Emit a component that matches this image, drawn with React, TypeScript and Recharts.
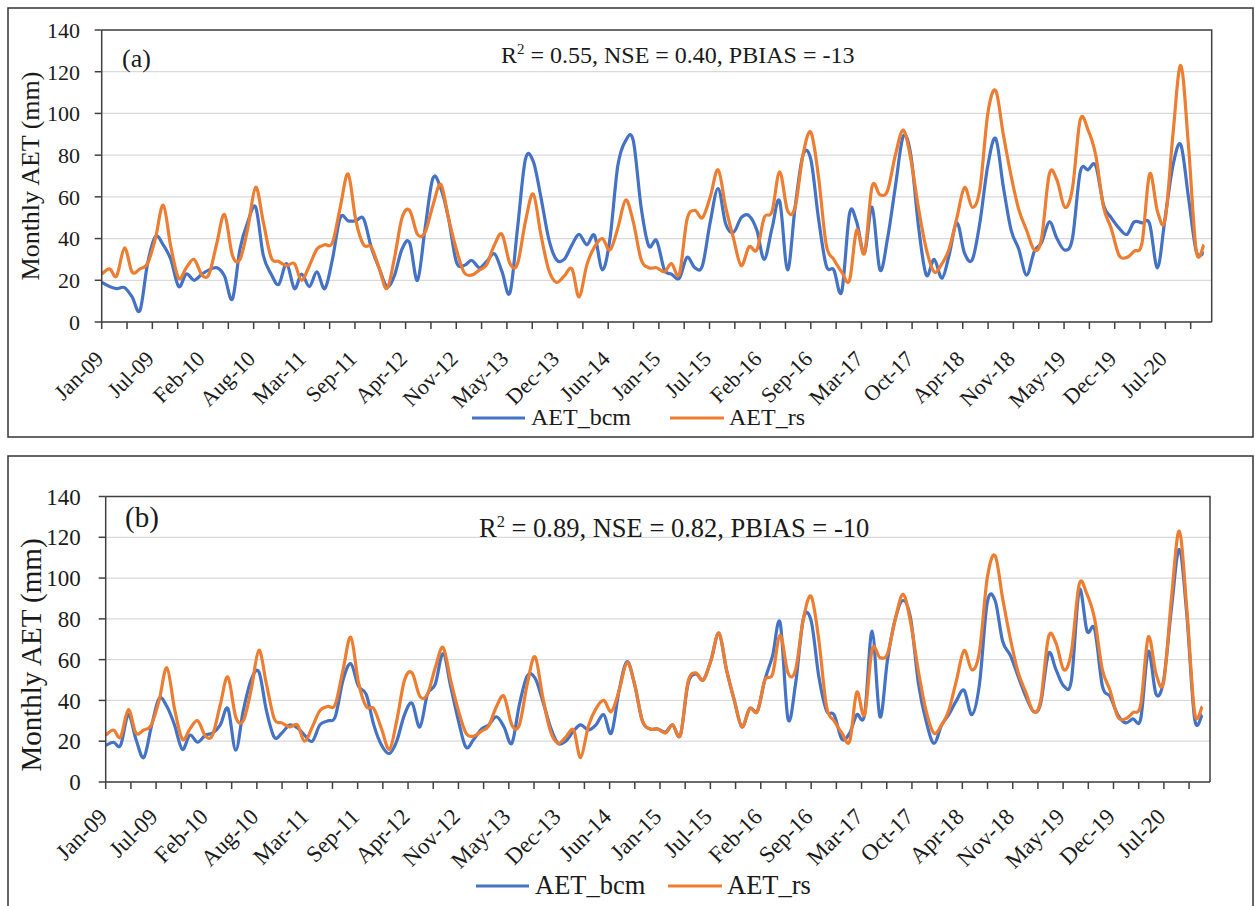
import React from "react"
import { CartesianGrid, Line, LineChart, XAxis, YAxis } from "recharts"

// monthly series, Jan-2009 .. Dec-2020 (144 months)
const START_YEAR = 2009
const N_MONTHS = 144

const TICK_LABELS = [
  "Jan-09", "Jul-09", "Feb-10", "Aug-10", "Mar-11", "Sep-11", "Apr-12", "Nov-12",
  "May-13", "Dec-13", "Jun-14", "Jan-15", "Jul-15", "Feb-16", "Sep-16", "Mar-17",
  "Oct-17", "Apr-18", "Nov-18", "May-19", "Dec-19", "Jul-20",
]

// Excel date axis: a tick every 100 days, a label every second tick
const TICK_DAYS = Array.from({ length: 44 }, (_, i) => i * 100)
const Y_TICKS = [0, 20, 40, 60, 80, 100, 120, 140]

// remote-sensing AET (same in both panels)
const AET_RS = [
  23, 25.5, 22, 35.5, 24, 25.5, 28, 40, 56, 36,
  21, 26, 30, 22.5, 23, 38, 51.5, 32, 30, 45,
  64.6, 48, 31, 29, 27, 28, 20, 27, 35, 37,
  38, 55, 71, 49, 37, 36, 26, 16, 30, 50,
  53.5, 42, 43, 56, 66, 50, 35, 24, 22.5, 25,
  27.5, 37, 42, 28, 28, 48, 61.4, 42, 25, 19,
  22, 25.5, 12, 27.5, 36, 40, 34.5, 45, 58.5, 48,
  30, 26, 26, 24, 28, 23, 49, 53.5, 50, 60,
  73, 55, 40, 27, 36, 34.6, 50, 53, 72, 53.5,
  55, 80, 91, 70, 37, 30, 24, 20, 44, 33,
  65, 61, 63, 80, 92, 78, 54, 35, 24, 28,
  35, 50, 64.5, 55, 64, 100, 111, 90, 70, 54,
  44, 34.5, 40, 71, 68, 55, 64, 97, 92, 80,
  55, 45, 32, 31, 34, 38, 71, 53, 49, 90,
  123, 85, 34, 37,
]

// panel (a): BCM before calibration
const AET_BCM_A = [
  19, 17, 16, 16.5, 12, 5.5, 28, 41, 37, 30,
  17, 23, 20, 23, 25, 26, 22, 11, 35, 48,
  55, 32, 23, 18, 28, 16, 23, 17, 24, 16,
  30, 50, 48.5, 48.5, 49.5, 36, 26, 17, 22, 35,
  38, 20, 45, 69, 64, 50, 29, 27, 29.5, 26,
  29, 32.7, 24, 14, 45, 78, 77, 60, 40, 30,
  30, 37, 42, 37, 41.5, 25, 40, 75, 87, 87,
  55, 36.5, 39, 25, 23, 21, 31, 26, 27, 48,
  64, 47, 43, 50, 51, 44, 30, 45, 58, 25,
  55, 80, 78, 50, 27, 25, 14.5, 52, 48, 33,
  55, 25, 40, 65, 89, 80, 45, 22.5, 30, 21,
  32, 47.5, 33, 30, 48, 75, 88, 65, 44, 35,
  22.5, 34, 38, 48, 40, 34.5, 40, 72, 73, 75,
  56, 50, 45, 42, 48, 47.5, 47, 26, 50, 75,
  85, 60, 34, 33,
]

// panel (b): BCM after calibration
const AET_BCM_B = [
  18, 19.5, 18, 33, 21, 12, 27, 41, 37, 28,
  16, 23, 19.5, 23, 24, 28, 36, 15.6, 35, 50,
  54, 35, 22, 24, 28, 26.5, 23, 20, 28, 30,
  32, 50, 58, 47, 43, 28, 18, 14, 20, 33,
  38.6, 27, 43, 48, 63, 47, 30, 17, 21, 26,
  28, 32, 27, 19, 38, 52, 51, 40, 27, 19,
  20, 25, 28, 25.5, 28, 33, 24, 45, 59, 48,
  30, 26, 26, 24.5, 28, 23, 48, 53, 50, 60,
  73, 55, 40, 27, 36, 35, 50, 62, 78, 31,
  48, 80, 79, 52, 35, 33, 21, 24, 33, 33,
  74, 32, 60, 80, 89, 80, 48, 30, 19, 28,
  33, 40, 45, 33, 48, 88, 89, 69, 62, 52,
  42, 34.5, 38.6, 63, 55, 47, 50, 94, 74, 75,
  47, 42, 33, 29, 31, 31, 64, 43, 50, 85,
  114, 82, 31, 33,
]

const BLUE = "#4472C4"
const ORANGE = "#ED7D31"
const AXIS = "#404040"
const TEXT = "#1a1a1a"
const FONT = "'Liberation Serif', 'Times New Roman', serif"

const DAY_MS = 86400000
const t0 = Date.UTC(START_YEAR, 0, 1)
const monthDays = Array.from({ length: N_MONTHS }, (_, i) =>
  Math.round((Date.UTC(START_YEAR, i, 1) - t0) / DAY_MS))
const X_MAX = Math.round((Date.UTC(START_YEAR + 12, 0, 1) - t0) / DAY_MS)

// Excel-like smoothed line (cardinal spline, tension 0)
const excelSmooth = (context: any) => {
  let pts: number[][] = []
  return {
    areaStart() {},
    areaEnd() {},
    lineStart() {
      pts = []
    },
    point(x: number, y: number) {
      pts.push([+x, +y])
    },
    lineEnd() {
      const n = pts.length
      if (!n) return
      context.moveTo(pts[0][0], pts[0][1])
      for (let i = 0; i < n - 1; i++) {
        const p0 = pts[i - 1] || pts[i]
        const p1 = pts[i]
        const p2 = pts[i + 1]
        const p3 = pts[i + 2] || p2
        context.bezierCurveTo(
          p1[0] + (p2[0] - p0[0]) / 6,
          p1[1] + (p2[1] - p0[1]) / 6,
          p2[0] - (p3[0] - p1[0]) / 6,
          p2[1] - (p3[1] - p1[1]) / 6,
          p2[0],
          p2[1],
        )
      }
    },
  }
}

type PanelProps = {
  top: number
  height: number
  plotLeft: number
  plotRight: number
  plotTop: number
  plotBottom: number
  tickFont: number
  tickGap: number
  labelDrop: number
  bcm: number[]
}

function Panel({ top, height, plotLeft, plotRight, plotTop, plotBottom, tickFont, tickGap, labelDrop, bcm }: PanelProps) {
  const data = monthDays.map((day, i) => ({ day, bcm: bcm[i], rs: AET_RS[i] }))

  const XTick = (props: any) => {
    const { x, y, payload } = props
    const v = payload.value
    if (v % 200 !== 0) return <g />
    const ax = x + 3
    const ay = y + tickFont * 1.05 + labelDrop
    return (
      <text
        x={ax}
        y={ay}
        textAnchor="end"
        transform={`rotate(-45 ${ax} ${ay})`}
        fontSize={tickFont}
        fontFamily={FONT}
        fill={TEXT}
      >
        {TICK_LABELS[v / 200]}
      </text>
    )
  }

  return (
    <div style={{ position: "absolute", left: 0, top }}>
      <LineChart
        width={1255}
        height={height}
        data={data}
        margin={{ top: plotTop - top, right: 1255 - plotRight, left: 0, bottom: 0 }}
      >
        <CartesianGrid vertical={false} stroke="#d9d9d9" strokeWidth={1.2} />
        <XAxis
          type="number"
          dataKey="day"
          domain={[0, X_MAX]}
          ticks={TICK_DAYS}
          interval={0}
          allowDataOverflow
          height={top + height - plotBottom}
          tickSize={7}
          tickLine={{ stroke: AXIS, strokeWidth: 1.5 }}
          axisLine={{ stroke: AXIS, strokeWidth: 1.5 }}
          tick={XTick}
        />
        <YAxis
          type="number"
          domain={[0, 140]}
          ticks={Y_TICKS}
          interval={0}
          width={plotLeft}
          tickSize={7}
          tickMargin={tickGap}
          tickLine={{ stroke: AXIS, strokeWidth: 1.5 }}
          axisLine={{ stroke: AXIS, strokeWidth: 1.5 }}
          tick={{ fontSize: tickFont, fontFamily: FONT, fill: TEXT }}
        />
        <Line
          dataKey="bcm"
          type={excelSmooth as any}
          stroke={BLUE}
          strokeWidth={3.2}
          dot={false}
          activeDot={false}
          isAnimationActive={false}
        />
        <Line
          dataKey="rs"
          type={excelSmooth as any}
          stroke={ORANGE}
          strokeWidth={3.2}
          dot={false}
          activeDot={false}
          isAnimationActive={false}
        />
      </LineChart>
    </div>
  )
}

function Legend({ y, fs, blue, orange }: { y: number; fs: number; blue: number[]; orange: number[] }) {
  return (
    <g fontFamily={FONT} fontSize={fs} fill={TEXT}>
      <line x1={blue[0]} x2={blue[1]} y1={y} y2={y} stroke={BLUE} strokeWidth={3.2} />
      <text x={blue[1] + 6} y={y + fs * 0.3}>AET_bcm</text>
      <line x1={orange[0]} x2={orange[1]} y1={y} y2={y} stroke={ORANGE} strokeWidth={3.2} />
      <text x={orange[1] + 5} y={y + fs * 0.3}>AET_rs</text>
    </g>
  )
}

function Title({ x, y, fs, text }: { x: number; y: number; fs: number; text: string }) {
  return (
    <text x={x} y={y} fontFamily={FONT} fontSize={fs} fill={TEXT}>
      R<tspan dy={-fs * 0.38} fontSize={fs * 0.62}>2</tspan>
      <tspan dy={fs * 0.38}>{text}</tspan>
    </text>
  )
}

export default function App() {
  return (
    <div
      style={{
        position: "absolute",
        left: 0,
        top: 0,
        width: 1255,
        height: 906,
        background: "#fff",
        overflow: "hidden",
      }}
    >
      <Panel
        top={0}
        height={440}
        plotLeft={101.7}
        plotRight={1211.7}
        plotTop={30}
        plotBottom={322}
        tickFont={22}
        tickGap={14.7}
        labelDrop={6}
        bcm={AET_BCM_A}
      />
      <Panel
        top={456}
        height={450}
        plotLeft={105.7}
        plotRight={1210}
        plotTop={496.5}
        plotBottom={782}
        tickFont={23}
        tickGap={18}
        labelDrop={3}
        bcm={AET_BCM_B}
      />
      <svg
        width={1255}
        height={906}
        style={{ position: "absolute", left: 0, top: 0, pointerEvents: "none" }}
      >
        {/* panel frames */}
        <rect x={8} y={8} width={1245} height={429} fill="none" stroke="#333" strokeWidth={1.5} />
        <rect x={8} y={456} width={1245} height={470} fill="none" stroke="#333" strokeWidth={1.5} />

        {/* plot-area borders (top / right) */}
        <polyline points="101.7,30 1211.7,30 1211.7,322" fill="none" stroke={AXIS} strokeWidth={1.5} />
        <polyline points="105.7,496.5 1210,496.5 1210,782" fill="none" stroke={AXIS} strokeWidth={1.5} />

        {/* panel (a) */}
        <text x={122} y={67} fontFamily={FONT} fontSize={26} fill={TEXT}>(a)</text>
        <Title x={501} y={63} fs={24} text=" = 0.55, NSE = 0.40, PBIAS = -13" />
        <text
          x={38.5}
          y={176}
          textAnchor="middle"
          transform="rotate(-90 38.5 176)"
          fontFamily={FONT}
          fontSize={26}
          fill={TEXT}
        >
          Monthly AET (mm)
        </text>
        <Legend y={418} fs={24} blue={[472, 525]} orange={[670, 724]} />

        {/* panel (b) */}
        <text x={125} y={527} fontFamily={FONT} fontSize={29} fill={TEXT}>(b)</text>
        <Title x={479} y={537} fs={26.5} text=" = 0.89, NSE = 0.82, PBIAS = -10" />
        <text
          x={41}
          y={655}
          textAnchor="middle"
          transform="rotate(-90 41 655)"
          fontFamily={FONT}
          fontSize={29}
          fill={TEXT}
        >
          Monthly AET (mm)
        </text>
        <Legend y={886} fs={26.5} blue={[476, 529]} orange={[668, 722]} />
      </svg>
    </div>
  )
}
